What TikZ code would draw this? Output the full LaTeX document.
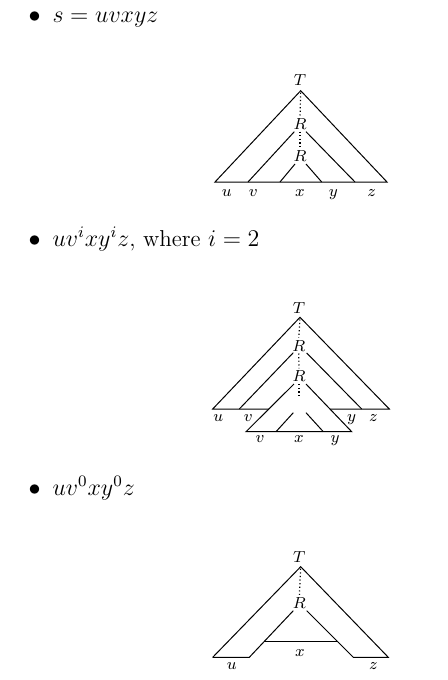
\documentclass[tikz,border=0pt]{standalone}
\usetikzlibrary{calc}
\begin{document}
\begin{tikzpicture}[x=0.5pt,y=-0.5pt,line width=0.5pt,
  lbl/.style={inner sep=0pt,anchor=base,font=\fontsize{8}{9.6}\selectfont},
  dotln/.style={line width=0.6pt,dash pattern=on 0.6pt off 1.2pt,shorten >=1pt,shorten <=1pt},
  bul/.style={inner sep=0pt,anchor=base west,font=\fontsize{11.5}{14}\selectfont}]
\useasboundingbox (0,0) rectangle (447,680);

% bullet lines
\node[bul] (b1) at (28,22) {$\bullet$\hspace{6pt}$s=uvxyz$};
\node[bul] (b2) at (28,246) {$\bullet$\hspace{6pt}$uv^ixy^iz$, where $i=2$};
\node[bul] (b3) at (28,495) {$\bullet$\hspace{6pt}$uv^0xy^0z$};

% ---------- tree 1 ----------
\coordinate (a1) at (300.7,90.7);
\coordinate (a1l) at (215,182);
\coordinate (a1r) at (387,182);
\coordinate (p1l) at (294.3,131.7); \coordinate (p1lb) at (248,182);
\coordinate (p1r) at (306,131.7);   \coordinate (p1rb) at (355,182);
\coordinate (q1l) at (295,164);     \coordinate (q1lb) at (280,182);
\coordinate (q1r) at (306,164);     \coordinate (q1rb) at (321.7,182);
\node[lbl] (t1) at (300,85.7) {$T$};
\node[lbl] (r1a) at (300,129) {$R$};
\node[lbl] (r1b) at (300,161) {$R$};
\draw (a1l) -- (a1) -- (a1r) -- cycle;
\draw (p1l) -- (p1lb);
\draw (p1r) -- (p1rb);
\draw (q1l) -- (q1lb);
\draw (q1r) -- (q1rb);
\draw[dotln] (a1) -- (r1a.north);
\draw[dotln] (r1a.south) -- (r1b.north);
\node[lbl] (u1) at (226.7,196.5) {$u$};
\node[lbl] (v1) at (253.3,196.5) {$v$};
\node[lbl] (x1) at (300,196.5) {$x$};
\node[lbl] (y1) at (333.3,196.5) {$y$};
\node[lbl] (z1) at (371.7,196.5) {$z$};

% ---------- tree 2 ----------
\coordinate (a2) at (300,317.3);
\coordinate (a2l) at (212.7,409);
\coordinate (a2r) at (389.3,409);
\coordinate (p2l) at (293.3,352.7); \coordinate (p2lb) at (239.3,409);
\coordinate (p2r) at (306.7,353);   \coordinate (p2rb) at (361.7,409);
\coordinate (m2l) at (294,384);     \coordinate (m2lb) at (246,431.7);
\coordinate (m2r) at (306,384);     \coordinate (m2rb) at (351.7,431.7);
\coordinate (q2l) at (293.3,412.7); \coordinate (q2lb) at (276,431.7);
\coordinate (q2r) at (306,412.7);   \coordinate (q2rb) at (323.3,431.7);
\node[lbl] (t2) at (299,313.3) {$T$};
\node[lbl] (r2a) at (298.7,351) {$R$};
\node[lbl] (r2b) at (299,381.7) {$R$};
\node[lbl] (r2c) at (299,411.7) {$R$};
\draw (a2l) -- (a2) -- (a2r) -- cycle;
\draw (p2l) -- (p2lb);
\draw (p2r) -- (p2rb);
\draw[dotln] (a2) -- (r2a.north);
\draw[dotln] (r2a.south) -- (r2b.north);
\fill[white] (m2l) -- (m2lb) -- (m2rb) -- (m2r) -- cycle;
\draw (m2l) -- (m2lb) -- (m2rb) -- (m2r);
\draw (q2l) -- (q2lb);
\draw (q2r) -- (q2rb);
\draw[dotln] (r2b.south) -- (r2c.north);
\node[lbl] (u2) at (218.3,421) {$u$};
\node[lbl] (v2) at (248.3,421) {$v$};
\node[lbl] (y2) at (351.7,421) {$y$};
\node[lbl] (z2) at (373.3,421) {$z$};
\node[lbl] (v2b) at (260,442.7) {$v$};
\node[lbl] (x2b) at (299,442.7) {$x$};
\node[lbl] (y2b) at (335,442.7) {$y$};

% ---------- tree 3 ----------
\coordinate (a3) at (300.7,566.7);
\coordinate (a3l) at (212.7,657.3);
\coordinate (a3r) at (388.3,657.3);
\coordinate (p3l) at (293.3,610.7); \coordinate (p3lb) at (249.3,657.3);
\coordinate (p3r) at (306.7,610.7); \coordinate (p3rb) at (353.3,657.3);
\coordinate (h3l) at ($(p3l)!0.665!(p3lb)$);
\coordinate (h3r) at ($(p3r)!0.665!(p3rb)$);
\node[lbl] (t3) at (299.3,562.7) {$T$};
\node[lbl] (r3) at (299.3,608.3) {$R$};
\draw (a3l) -- (a3) -- (a3r) -- (p3rb) -- (p3r);
\draw (a3l) -- (p3lb) -- (p3l);
\draw (h3l) -- (h3r);
\draw[dotln] (a3) -- (r3.north);
\node[lbl] (x3) at (300,656) {$x$};
\node[lbl] (u3) at (231.7,669.3) {$u$};
\node[lbl] (z3) at (373.3,669.3) {$z$};
\end{tikzpicture}
\end{document}
